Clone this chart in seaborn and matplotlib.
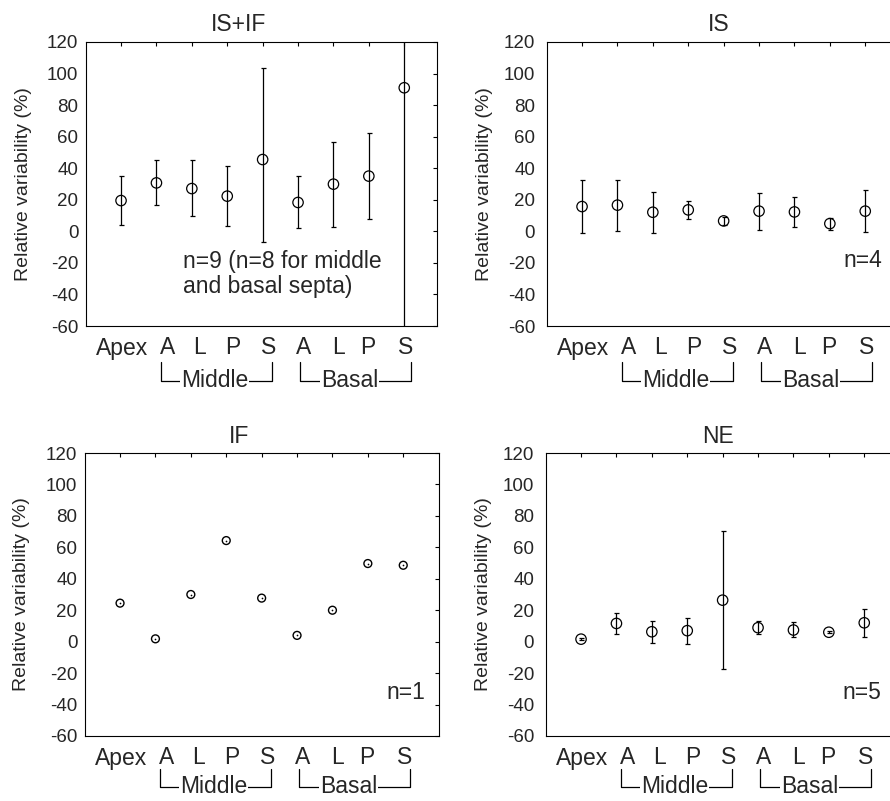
import numpy as np
import pandas as pd
import matplotlib
matplotlib.use("Agg")
import matplotlib.pyplot as plt
import matplotlib.transforms as mtransforms
import seaborn as sns

# ---------------- data ----------------
categories = ["Apex", "A", "L", "P", "S", "A", "L", "P", "S"]
yticks = [-60, -40, -20, 0, 20, 40, 60, 80, 100, 120]

isif_mean = [19.5, 30.7, 27.1, 22.3, 45.5, 18.3, 29.9, 35.0, 91.0]
isif_low = [4.1, 17.0, 9.6, 3.2, -6.7, 2.0, 2.8, 7.9, -90.0]
isif_high = [35.2, 44.9, 45.1, 41.7, 103.5, 34.8, 56.8, 62.3, 272.0]

is_mean = [15.7, 16.6, 12.1, 13.6, 6.6, 12.8, 12.3, 4.9, 12.8]
is_low = [-0.8, 0.5, -1.2, 7.7, 4.0, 0.9, 3.0, 1.1, -0.3]
is_high = [32.4, 32.6, 24.8, 19.3, 9.4, 24.6, 21.6, 8.3, 25.9]

if_mean = [24.5, 1.8, 30.0, 64.3, 27.7, 4.0, 20.0, 49.7, 48.6]

ne_mean = [1.6, 11.6, 6.3, 7.0, 26.4, 8.9, 7.4, 6.0, 12.0]
ne_low = [0.8, 4.8, -0.7, -1.3, -17.5, 4.8, 2.9, 5.2, 3.0]
ne_high = [2.4, 18.4, 13.3, 15.3, 70.7, 13.1, 12.5, 6.8, 20.5]

titles = ["IS+IF", "IS", "IF", "NE"]
notes = ["n=9 (n=8 for middle\nand basal septa)", "n=4", "n=1", "n=5"]
ylabel = "Relative variability (%)"
group_labels = ["Middle", "Basal"]

# horizontal nudges (pixels) of the x tick labels, as in the original layout
label_nudge_px = [1, 11, 8, 6, 6, 6, 5, -1, 1]

# ---------------- style ----------------
sns.set_style("white")
plt.rcParams["font.family"] = ["Liberation Sans", "DejaVu Sans"]
plt.rcParams["axes.linewidth"] = 0.8

W, H = 890, 801
fig = plt.figure(figsize=(W / 100, H / 100), dpi=100)


def px_axes(left, top, right, bottom):
    return fig.add_axes([left / W, (H - bottom) / H, (right - left) / W, (bottom - top) / H])


ax1 = px_axes(86, 42, 437, 326)
ax2 = px_axes(547, 42, 898, 326)
ax3 = px_axes(85, 453, 439, 736)
ax4 = px_axes(546, 453, 897, 736)
axes = [ax1, ax2, ax3, ax4]

x = np.arange(len(categories))


def draw(ax, mean, low=None, high=None, small=False):
    mean = np.asarray(mean, dtype=float)
    df = pd.DataFrame({"pos": x, "val": mean})
    if low is not None:
        low = np.asarray(low, dtype=float)
        high = np.asarray(high, dtype=float)
        ax.errorbar(x, mean, yerr=[mean - low, high - mean], fmt="none",
                    ecolor="black", elinewidth=0.9, capsize=1.8, capthick=0.9,
                    zorder=2)
    if small:
        sns.scatterplot(data=df, x="pos", y="val", ax=ax, marker="o", s=32,
                        facecolor="none", edgecolor="black", linewidth=1.0,
                        zorder=3, legend=False)
        sns.scatterplot(data=df, x="pos", y="val", ax=ax, marker="o", s=1.5,
                        color="black", linewidth=0, zorder=4, legend=False)
    else:
        sns.scatterplot(data=df, x="pos", y="val", ax=ax, marker="o", s=56,
                        facecolor="none", edgecolor="black", linewidth=0.9,
                        zorder=3, legend=False)


draw(ax1, isif_mean, isif_low, isif_high)
draw(ax2, is_mean, is_low, is_high)
draw(ax3, if_mean, small=True)
draw(ax4, ne_mean, ne_low, ne_high)


def bracket(ax, x0, x1, xc, label, ytop, ybot):
    trans = mtransforms.blended_transform_factory(ax.transData, ax.transAxes)
    ax.plot([x0, x0, x1, x1], [ytop, ybot, ybot, ytop], color="black", lw=0.9,
            transform=trans, clip_on=False)
    ax.text(xc, ybot, label, transform=trans, ha="center", va="center",
            fontsize=16.5, bbox=dict(facecolor="white", edgecolor="none", pad=0.8),
            zorder=5, clip_on=False)


for i, ax in enumerate(axes):
    left_col = i in (0, 2)
    top_row = i in (0, 1)
    width_px = 354 if i == 2 else 351
    ax.set_xlim(-0.99, -0.99 + width_px / 35.4)
    ax.set_ylim(-60, 120)
    ax.set_xticks(x)
    ax.set_xticklabels([""] * len(categories))
    base = mtransforms.blended_transform_factory(ax.transData, ax.transAxes)
    for xi, lab, dx in zip(x, categories, label_nudge_px):
        tr = base + mtransforms.ScaledTranslation(dx / 100, -10.5 / 100,
                                                  fig.dpi_scale_trans)
        ax.text(xi, 0, lab, transform=tr, ha="center", va="top",
                fontsize=16.5, clip_on=False)
    ax.set_yticks(yticks)
    ax.set_yticklabels([str(v) for v in yticks], fontsize=13.5)
    ax.set_xlabel("")
    ax.set_ylabel(ylabel, fontsize=14, va="center")
    ax.yaxis.set_label_coords(-0.178, 0.5)
    ax.tick_params(axis="both", direction="in", length=3, width=0.8,
                   top=True, right=True, color="black")
    ax.tick_params(axis="y", pad=5.5 if left_col else 8.5)
    for sp in ax.spines.values():
        sp.set_visible(True)
        sp.set_color("black")
        sp.set_linewidth(0.8)

    ax.text(0.436 if left_col else 0.49, 1.037, titles[i], transform=ax.transAxes,
            ha="center", va="baseline", fontsize=16.5)

    if top_row:
        ytop, ybot = -0.127, -0.192
    else:
        ytop, ybot = -0.117, -0.18
    bracket(ax, 1.12, 4.26, 2.64, group_labels[0], ytop, ybot)
    bracket(ax, 5.06, 8.18, 6.45, group_labels[1], ytop, ybot)

# annotations
ax1.text(0.276, 0.183, notes[0], transform=ax1.transAxes, ha="left", va="center",
         fontsize=16.5, linespacing=1.15)
ax2.text(0.954, 0.232, notes[1], transform=ax2.transAxes, ha="right", va="center",
         fontsize=16.5)
ax3.text(0.96, 0.152, notes[2], transform=ax3.transAxes, ha="right", va="center",
         fontsize=16.5)
ax4.text(0.954, 0.152, notes[3], transform=ax4.transAxes, ha="right", va="center",
         fontsize=16.5)

fig.savefig("out.png", dpi=100)
